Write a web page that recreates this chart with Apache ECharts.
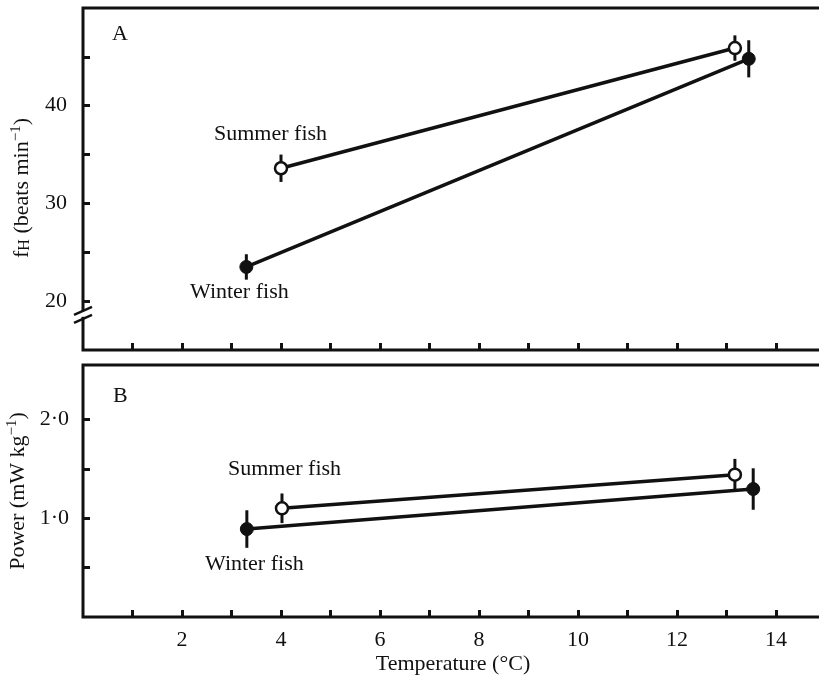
<!DOCTYPE html>
<html lang="en">
<head>
    <meta charset="UTF-8">
    <title>Heart rate and power vs temperature</title>
    <script src="https://cdn.jsdelivr.net/npm/echarts@6/dist/echarts.min.js"></script>
    <style>
        html, body { margin: 0; height: 100%; background: #fff; }
        #main { width: 819px; height: 681px; }
    </style>
</head>
<body>
    <div id="main"></div>
    <script type="text/javascript">
        // values: temperature (°C), mean, +/- error
        const summerTempA = [4.0, 13.17];
        const summerRateA = [33.6, 45.9];
        const summerRateErrA = [1.4, 1.3];
        const winterTempA = [3.3, 13.45];
        const winterRateA = [23.5, 44.8];
        const winterRateErrA = [1.3, 1.9];

        const summerTempB = [4.02, 13.17];
        const summerPowerB = [1.10, 1.44];
        const summerPowerErrB = [0.15, 0.16];
        const winterTempB = [3.31, 13.54];
        const winterPowerB = [0.89, 1.295];
        const winterPowerErrB = [0.19, 0.21];

        const xTicks = [1, 2, 3, 4, 5, 6, 7, 8, 9, 10, 11, 12, 13, 14];
        const xLabels = [2, 4, 6, 8, 10, 12, 14];
        const rateTicks = [20, 25, 30, 35, 40, 45];
        const rateLabels = [20, 30, 40];
        const powerTicks = [0.5, 1, 1.5, 2];
        const powerLabels = [1, 2];

        const FONT = 'Liberation Serif';
        const FS = 22;
        const BLACK = '#111';

        const chart = echarts.init(document.getElementById('main'));

        const pts = (xs, ys, es) => xs.map((x, i) => [x, ys[i], es ? es[i] : 0]);

        const errorBar = (xi, yi, data) => ({
            type: 'custom',
            xAxisIndex: xi,
            yAxisIndex: yi,
            z: 3,
            silent: true,
            renderItem: (params, api) => {
                const x = api.value(0), y = api.value(1), e = api.value(2);
                const p1 = api.coord([x, y - e]);
                const p2 = api.coord([x, y + e]);
                return {
                    type: 'line',
                    shape: { x1: p1[0], y1: p1[1], x2: p2[0], y2: p2[1] },
                    style: { stroke: BLACK, lineWidth: 3 }
                };
            },
            data: data
        });

        const line = (xi, yi, data) => ({
            type: 'line', xAxisIndex: xi, yAxisIndex: yi, z: 2, silent: true,
            showSymbol: false, data: data.map(d => [d[0], d[1]]),
            lineStyle: { color: BLACK, width: 3.5 }
        });

        const markers = (xi, yi, data, open) => ({
            type: 'scatter', xAxisIndex: xi, yAxisIndex: yi, z: 10, silent: true,
            symbol: 'circle', symbolSize: open ? 12 : 13,
            data: data.map(d => [d[0], d[1]]),
            itemStyle: open
                ? { color: '#fff', borderColor: BLACK, borderWidth: 2.5, opacity: 1 }
                : { color: BLACK, borderColor: BLACK, borderWidth: 1, opacity: 1 }
        });

        const tick = { inside: true, length: 7, lineStyle: { color: BLACK, width: 3 } };
        const tickLabel = { color: BLACK, fontFamily: FONT, fontSize: FS };

        const xAxisBase = (gi, showLabels) => ({
            type: 'value', gridIndex: gi, min: 0, max: 14.95,
            axisLine: { show: false },
            splitLine: { show: false },
            axisTick: Object.assign({ customValues: xTicks }, tick),
            axisLabel: Object.assign({ show: showLabels, margin: 12, customValues: xLabels }, tickLabel)
        });

        const textStyle = { fill: BLACK, font: FS + 'px "' + FONT + '"' };
        const label = (text, left, top) => ({ type: 'text', left: left, top: top, style: Object.assign({ text: text }, textStyle) });

        const richName = {
            n: { fontFamily: FONT, fontSize: FS, color: BLACK, lineHeight: 24, verticalAlign: 'bottom' },
            h: { fontFamily: FONT, fontSize: 16, color: BLACK, lineHeight: 24, verticalAlign: 'bottom' },
            sup: { fontFamily: FONT, fontSize: 15, color: BLACK, lineHeight: 18, verticalAlign: 'top' }
        };

        const sA = pts(summerTempA, summerRateA, summerRateErrA);
        const wA = pts(winterTempA, winterRateA, winterRateErrA);
        const sB = pts(summerTempB, summerPowerB, summerPowerErrB);
        const wB = pts(winterTempB, winterPowerB, winterPowerErrB);

        const gridBase = { left: 83, width: 740, show: true, borderColor: BLACK, borderWidth: 3, backgroundColor: 'transparent', outerBoundsMode: 'none', containLabel: false };

        chart.setOption({
            animation: false,
            grid: [
                Object.assign({ top: 8, height: 342 }, gridBase),
                Object.assign({ top: 365, height: 252 }, gridBase)
            ],
            xAxis: [
                xAxisBase(0, false),
                Object.assign(xAxisBase(1, true), {
                    name: 'Temperature (°C)', nameLocation: 'middle', nameGap: 36,
                    nameTextStyle: { fontFamily: FONT, fontSize: FS, color: BLACK }
                })
            ],
            yAxis: [
                {
                    type: 'value', gridIndex: 0, min: 15, max: 50,
                    axisLine: { show: false }, splitLine: { show: false },
                    axisTick: Object.assign({ customValues: rateTicks }, tick),
                    axisLabel: Object.assign({ margin: 16, customValues: rateLabels }, tickLabel),
                    name: '{n|f}{h|H}{n| (beats min}{sup|−1}{n|)}',
                    nameLocation: 'middle', nameGap: 50,
                    nameTextStyle: { rich: richName, padding: [0, 18, 0, 0] }
                },
                {
                    type: 'value', gridIndex: 1, min: 0, max: 2.55,
                    axisLine: { show: false }, splitLine: { show: false },
                    axisTick: Object.assign({ customValues: powerTicks }, tick),
                    axisLabel: Object.assign({
                        margin: 14, customValues: powerLabels,
                        formatter: v => v.toFixed(1).replace('.', '·')
                    }, tickLabel),
                    name: '{n|Power (mW kg}{sup|−1}{n|)}',
                    nameLocation: 'middle', nameGap: 50,
                    nameTextStyle: { rich: richName }
                }
            ],
            series: [
                line(0, 0, sA), line(0, 0, wA),
                errorBar(0, 0, sA), errorBar(0, 0, wA),
                markers(0, 0, sA, true), markers(0, 0, wA, false),
                line(1, 1, sB), line(1, 1, wB),
                errorBar(1, 1, sB), errorBar(1, 1, wB),
                markers(1, 1, sB, true), markers(1, 1, wB, false)
            ]
        });

        // axis break marks on panel A, just below 20
        const brk = chart.convertToPixel({ gridIndex: 0 }, [0, 18.6]);
        const slash = dy => ({
            type: 'line',
            shape: { x1: brk[0] - 9, y1: brk[1] + dy + 5, x2: brk[0] + 9, y2: brk[1] + dy - 3 },
            style: { stroke: BLACK, lineWidth: 2.5 }
        });
        chart.setOption({
            graphic: [
                label('A', 112, 23),
                label('B', 113, 385),
                label('Summer fish', 214, 123),
                label('Winter fish', 190, 281),
                label('Summer fish', 228, 458),
                label('Winter fish', 205, 553),
                { type: 'rect', shape: { x: brk[0] - 3, y: brk[1] - 4, width: 6, height: 6 }, style: { fill: '#fff' } },
                slash(-5), slash(3)
            ]
        });
    </script>
</body>
</html>
